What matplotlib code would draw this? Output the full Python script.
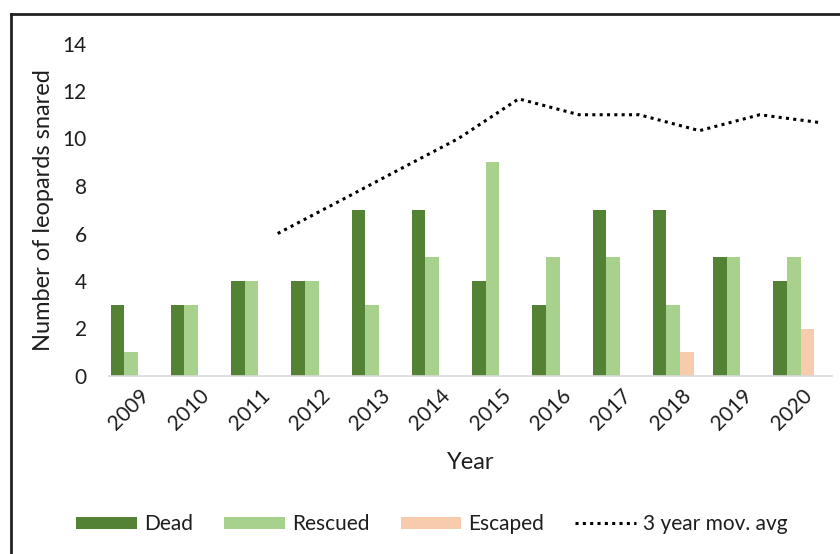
import numpy as np
import matplotlib
matplotlib.use('Agg')
import matplotlib.pyplot as plt
from matplotlib.lines import Line2D

plt.rcParams['font.family'] = ['Lato', 'DejaVu Sans']

# Data
years = ['2009', '2010', '2011', '2012', '2013', '2014',
         '2015', '2016', '2017', '2018', '2019', '2020']
dead = [3, 3, 4, 4, 7, 7, 4, 3, 7, 7, 5, 4]
rescued = [1, 3, 4, 4, 3, 5, 9, 5, 5, 3, 5, 5]
escaped = [0, 0, 0, 0, 0, 0, 0, 0, 0, 1, 0, 2]
mov_avg_years = ['2011', '2012', '2013', '2014', '2015',
                 '2016', '2017', '2018', '2019', '2020']
mov_avg = [6.0, 7.33, 8.67, 10.0, 11.67, 11.0, 11.0, 10.33, 11.0, 10.67]

c_dead = '#548235'
c_resc = '#a9d18e'
c_esc = '#f8cbad'
txt = '#1e1e1e'

fig = plt.figure(figsize=(8.4, 5.54), dpi=100)
ax = fig.add_axes([109 / 840, 1 - 376 / 554, 723 / 840, 332.5 / 554])

x = np.arange(len(years))
w = 0.225
b1 = ax.bar(x - 1.6 * w, dead, w, color=c_dead, label='Dead')
b2 = ax.bar(x - 0.6 * w, rescued, w, color=c_resc, label='Rescued')
b3 = ax.bar(x + 0.4 * w, escaped, w, color=c_esc, label='Escaped')

xm = np.array([years.index(y) for y in mov_avg_years]) + 0.3
ln, = ax.plot(xm, mov_avg, color='black', linestyle=(0, (1, 1.4)), linewidth=2.2,
              label='3 year mov. avg')

ax.set_xlim(-0.5, len(years) - 0.5)
ax.set_ylim(0, 14)
ax.set_yticks(range(0, 15, 2))
ax.set_xticks(x)
ax.set_xticklabels(years, rotation=45, ha='right', rotation_mode='anchor')

for s in ['top', 'right', 'left']:
    ax.spines[s].set_visible(False)
ax.spines['bottom'].set_color('#d9d9d9')
ax.spines['bottom'].set_linewidth(1.2)
ax.tick_params(axis='both', length=0, labelsize=15, colors=txt)
ax.tick_params(axis='y', pad=16)
ax.tick_params(axis='x', pad=7)

ax.set_ylabel('Number of leopards snared', fontsize=17, color=txt,
              labelpad=6)
ax.set_xlabel('Year', fontsize=17, color=txt, labelpad=13)

fig.legend([b1, b2, b3, ln], ['Dead', 'Rescued', 'Escaped', '3 year mov. avg'],
           loc='center', bbox_to_anchor=(432 / 840, 1 - 524 / 554),
           ncol=4, frameon=False, fontsize=15, handlelength=2.9,
           handleheight=0.5, handletextpad=0.35, columnspacing=1.5,
           labelcolor=txt)

# outer frame (only top and left edges visible)
fig.add_artist(Line2D([11 / 840, 11 / 840], [0, 1 - 14 / 554],
                      transform=fig.transFigure, color='#222222', linewidth=2))
fig.add_artist(Line2D([11 / 840, 1], [1 - 14 / 554, 1 - 14 / 554],
                      transform=fig.transFigure, color='#222222', linewidth=2))

fig.savefig('out.png', dpi=100)
